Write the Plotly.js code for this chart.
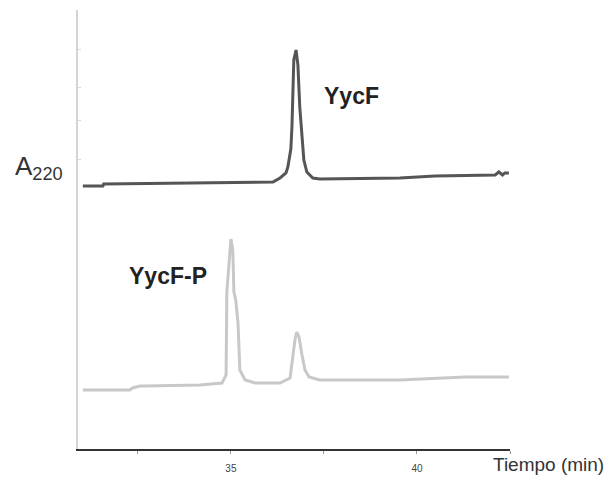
<!DOCTYPE html>
<html>
<head>
<meta charset="utf-8">
<script src="https://cdn.plot.ly/plotly-3.0.1.min.js"></script>
<style>html,body{margin:0;padding:0;background:#fff;}#chart{width:613px;height:479px;}</style>
</head>
<body>
<div id="chart"></div>
<script>
// Retention time (min) and absorbance (arbitrary units) for each chromatogram
const timeYycF = [31.02, 31.56, 31.58, 34.17, 36.13, 36.32, 36.48, 36.53, 36.61, 36.64, 36.67, 36.69, 36.75, 36.80, 36.85, 36.88, 36.91, 36.96, 37.04, 37.17, 37.20, 37.39, 39.54, 40.48, 42.10, 42.20, 42.30, 42.36, 42.47];
const a220YycF = [263, 263, 265, 266, 267, 271, 276, 282, 300, 322, 382, 389, 399, 384, 342, 325, 309, 289, 277, 272, 271, 270, 271, 273, 274, 277, 274, 276, 276];

const timeYycFP = [31.02, 32.28, 32.36, 32.55, 32.70, 34.17, 34.76, 34.87, 34.89, 34.95, 35.00, 35.05, 35.08, 35.13, 35.19, 35.24, 35.38, 35.65, 36.32, 36.59, 36.67, 36.72, 36.77, 36.83, 36.91, 36.99, 37.10, 37.39, 39.54, 40.21, 41.29, 42.47];
const a220YycFP = [59, 59, 61, 63, 63, 64, 66, 74, 157, 189, 210, 199, 157, 149, 126, 79, 69, 66, 66, 71, 94, 109, 117, 112, 94, 79, 72, 69, 69, 70, 72, 72];

const xTickVals = [35, 40];
const xTickText = ['35', '40'];
const yTickVals = [290, 329, 362, 400];

const traceLabels = ['YycF', 'YycF-P'];
const labelPos = [[37.45, 353], [32.2, 173]];

const data = [
  {x: timeYycF, y: a220YycF, type: 'scatter', mode: 'lines', name: traceLabels[0],
   line: {color: '#555555', width: 3}, hoverinfo: 'skip'},
  {x: timeYycFP, y: a220YycFP, type: 'scatter', mode: 'lines', name: traceLabels[1],
   line: {color: '#c8c8c8', width: 3}, hoverinfo: 'skip'}
];

const layout = {
  width: 613, height: 479,
  margin: {l: 78, r: 103, t: 10, b: 30},
  paper_bgcolor: '#ffffff', plot_bgcolor: '#ffffff',
  showlegend: false,
  font: {family: 'Liberation Sans, Arial, sans-serif', color: '#222'},
  xaxis: {
    range: [30.89, 42.5], showgrid: false, zeroline: false,
    showline: true, linecolor: '#333333', linewidth: 2,
    tickvals: xTickVals, ticktext: xTickText,
    ticks: 'outside', ticklen: 3, tickcolor: '#999', tickwidth: 1,
    minor: {tick0: 0, dtick: 2.5, ticks: 'outside', ticklen: 3, tickcolor: '#999', tickwidth: 1, showgrid: false},
    ticklabelstandoff: 6,
    tickfont: {size: 10, color: '#444'}
  },
  yaxis: {
    range: [0, 439], showgrid: false, zeroline: false,
    showline: true, linecolor: '#d4d4d4', linewidth: 2,
    tickvals: yTickVals, showticklabels: false,
    ticks: 'inside', ticklen: 3, tickcolor: '#d8d8d8', tickwidth: 1
  },
  annotations: [
    {xref: 'x', yref: 'y', x: labelPos[0][0], y: labelPos[0][1], xanchor: 'left', yanchor: 'middle',
     text: '<b>' + traceLabels[0] + '</b>', showarrow: false, font: {size: 23, color: '#222'}},
    {xref: 'x', yref: 'y', x: labelPos[1][0], y: labelPos[1][1], xanchor: 'left', yanchor: 'middle',
     text: '<b>' + traceLabels[1] + '</b>', showarrow: false, font: {size: 23, color: '#222'}},
    {xref: 'paper', yref: 'paper', x: -0.15, y: 0.642, xanchor: 'left', yanchor: 'middle',
     text: 'A<sub>220</sub>', showarrow: false, font: {size: 26, color: '#333'}},
    {xref: 'paper', yref: 'paper', x: 0.955, y: 0, xanchor: 'left', yanchor: 'middle', yshift: -15,
     text: 'Tiempo (min)', showarrow: false, font: {size: 19, color: '#333'}}
  ]
};

Plotly.newPlot('chart', data, layout, {displayModeBar: false, staticPlot: true});
</script>
</body>
</html>
